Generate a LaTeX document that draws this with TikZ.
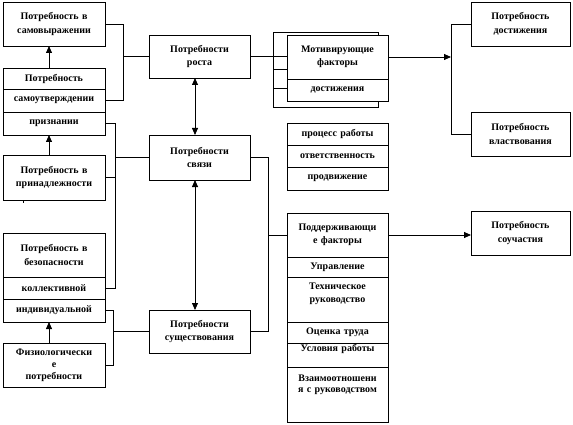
\documentclass[tikz,border=0pt]{standalone}
\usepackage{fontspec}
\setmainfont{Liberation Serif}
\usetikzlibrary{positioning, arrows.meta, calc}

\begin{document}
\begin{tikzpicture}[x=1pt, y=-1pt,
    every node/.style={font=\fontsize{10}{13.5}\selectfont\bfseries, align=center},
    rowbox/.style={draw, fill=white, line width=0.8pt, outer sep=0pt, inner xsep=1pt, inner ysep=1pt, minimum width=102pt, text width=98pt, minimum height=#1},
    goalbox/.style={rowbox=#1, minimum width=99pt, text width=95pt},
    arr/.style={-{Triangle[length=7pt, width=6pt]}, line width=0.8pt},
    dbl/.style={{Triangle[length=7pt, width=6pt]}-{Triangle[length=7pt, width=6pt]}, line width=0.8pt},
    every path/.style={line width=0.8pt},
]
\useasboundingbox (0,0) rectangle (573,425);

% Maslow column
\node[rowbox=44pt] (selfexp) at (54,24) {Потребность в\\самовыражении};
\node[rowbox=21pt] (esteem) at (54,78.5) {Потребность};
\node[rowbox=23pt, below=0pt of esteem] (esteemb) {самоутверждении};
\node[rowbox=23pt, below=0pt of esteemb] (esteemc) {признании};
\node[rowbox=45pt] (belong) at (54,177.5) {Потребность в\\принадлежности};
\node[rowbox=44pt] (safety) at (54,255) {Потребность в\\безопасности};
\node[rowbox=22pt, below=0pt of safety] (safetyb) {коллективной};
\node[rowbox=23pt, below=0pt of safetyb] (safetyc) {индивидуальной};
\node[rowbox=44pt, font=\fontsize{10}{12}\selectfont\bfseries] (physio) at (54,365) {Физиологически\\е\\потребности};

\coordinate (ax) at (49,0);
\draw[arr] (ax |- esteem.north) -- (ax |- selfexp.south);
\draw[arr] (ax |- belong.north) -- (ax |- esteemc.south);
\draw[arr] (ax |- physio.north) -- (ax |- safetyc.south);
\draw ([xshift=-31pt]belong.south) -- ++(0,3);

% Alderfer column
\node[rowbox=43pt, minimum width=101pt] (growth) at (199.5,56.5) {Потребности\\роста};
\node[rowbox=45pt, minimum width=101pt] (relate) at (199.5,157.5) {Потребности\\связи};
\node[rowbox=43pt, minimum width=101pt] (exist) at (199.5,331.5) {Потребности\\существования};

\coordinate (mx) at (195,0);
\draw[dbl] (mx |- growth.south) -- (mx |- relate.north);
\draw[dbl] (mx |- relate.south) -- (mx |- exist.north);

% brackets to the left column
\coordinate (bar1) at (123,0);
\draw (selfexp.east) -| (bar1 |- esteemb.east) -- (esteemb.east);
\draw (bar1 |- growth.west) -- (growth.west);

\coordinate (bar2) at (115,0);
\draw (esteemc.east) -| (bar2 |- safetyb.east) -- (safetyb.east);
\draw (belong.east) -- (bar2 |- belong.east);
\draw (bar2 |- relate.west) -- (relate.west);

\coordinate (bar3) at (113,0);
\draw (safetyc.east) -| (bar3 |- physio.east) -- (physio.east);
\draw (bar3 |- exist.west) -- (exist.west);

% Herzberg factors
\node[draw, line width=0.8pt, outer sep=0pt, minimum width=105pt, minimum height=75pt, anchor=north west] (motivback) at (273,32) {};
\draw ([yshift=-37pt]motivback.north west) -- ++(14,0);
\draw ([yshift=-56pt]motivback.north west) -- ++(14,0);
\draw (growth.east) -- (motivback.west |- growth.east) -- ++(14,0);

\node[rowbox=44pt, minimum width=101pt] (motiv) at (337.5,57) {Мотивирующие\\факторы};
\node[rowbox=22pt, minimum width=101pt, below=0pt of motiv] (motivb) {достижения};

\node[rowbox=22pt, minimum width=101pt] (work) at (337.5,134) {процесс работы};
\node[rowbox=22pt, minimum width=101pt, below=0pt of work] (resp) {ответственность};
\node[rowbox=23pt, minimum width=101pt, below=0pt of resp] (promo) {продвижение};

\node[rowbox=44pt, minimum width=101pt] (supa) at (337.5,235) {Поддерживающи\\е факторы};
\node[rowbox=20pt, minimum width=101pt, below=0pt of supa] (supb) {Управление};
\node[rowbox=45pt, minimum width=101pt, below=0pt of supb] (supc) {Техническое\\руководство\\\mbox{}};
\node[rowbox=21pt, minimum width=101pt, below=0pt of supc] (supd) {Оценка труда};
\node[rowbox=24pt, minimum width=101pt, below=0pt of supd] (supe) {Условия работы\\\mbox{}};
\node[rowbox=55pt, minimum width=101pt, below=0pt of supe, font=\fontsize{10}{11}\selectfont\bfseries] (supf) {Взаимоотношени\\я с руководством\\\mbox{}\\\mbox{}};

\coordinate (bar4) at (268,0);
\draw (relate.east) -| (bar4 |- exist.east) -- (exist.east);
\draw (bar4 |- supa.west) -- (supa.west);

% McClelland needs
\node[goalbox=44pt] (ach) at (520.5,24) {Потребность\\достижения};
\node[goalbox=44pt] (power) at (520.5,134) {Потребность\\властвования};
\node[goalbox=44pt] (affil) at (520.5,233) {Потребность\\соучастия};

\coordinate (bar5) at (451,0);
\draw[arr] (motiv.east) -- (bar5 |- motiv.east);
\draw (ach.west) -| (bar5 |- power.west) -- (power.west);
\draw[arr] (supa.east) -- (affil.west |- supa.east);

\end{tikzpicture}
\end{document}
